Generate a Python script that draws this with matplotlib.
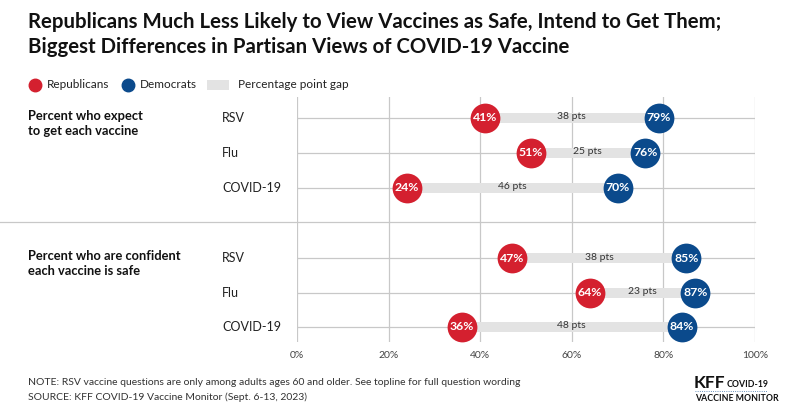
import matplotlib.pyplot as plt
from matplotlib.patches import Rectangle

# data
groups = ['Percent who expect\nto get each vaccine', 'Percent who are confident\neach vaccine is safe']
vaccines = ['RSV', 'Flu', 'COVID-19']
rep_expect = [41, 51, 24]
dem_expect = [79, 76, 70]
rep_safe = [47, 64, 36]
dem_safe = [85, 87, 84]
xticks = [0, 20, 40, 60, 80, 100]

RED = '#d4202f'
BLUE = '#0b4a8c'
GAP = '#e3e3e3'
GRID = '#c8c8c8'

plt.rcParams['font.family'] = ['Lato', 'DejaVu Sans']

W, H = 800, 411
LX = 28
fig = plt.figure(figsize=(8, 4.11), dpi=100)

# main axes in pixel layout: x 297..755, y 97..342
ax_top, ax_bot = 97, 342
ax = fig.add_axes([297 / W, 1 - ax_bot / H, (755 - 297) / W, (ax_bot - ax_top) / H])
ax.set_xlim(0, 100)
ax.set_ylim(ax_bot, ax_top)  # y in pixel rows
ax.axis('off')

row_y = [[118, 153, 188], [258, 293, 327]]
data = [(rep_expect, dem_expect), (rep_safe, dem_safe)]

for x in xticks:
    ax.plot([x, x], [ax_top, ax_bot], color=GRID, lw=0.9, zorder=0)
    ax.text(x, 356, f'{x}%', ha='center', va='center', fontsize=7.5, color='#444444')

for g, (reps, dems) in enumerate(data):
    for i, y in enumerate(row_y[g]):
        r, d = reps[i], dems[i]
        ax.plot([0, 100], [y, y], color=GRID, lw=0.9, zorder=0)
        ax.add_patch(Rectangle((r, y - 5), d - r, 10, color=GAP, lw=0, zorder=1))
        ax.scatter([r], [y], s=460, color=RED, zorder=3, lw=0)
        ax.scatter([d], [y], s=460, color=BLUE, zorder=3, lw=0)
        ax.text(r, y, f'{r}%', ha='center', va='center', color='white',
                fontsize=8.8, fontweight='bold', zorder=4)
        ax.text(d, y, f'{d}%', ha='center', va='center', color='white',
                fontsize=8.8, fontweight='bold', zorder=4)
        ax.text((r + d) / 2, y - 1, f'{d - r} pts', ha='center', va='center',
                fontsize=7.5, color='#333333', zorder=2)
        fig.text(222 / W, 1 - y / H, vaccines[i], ha='left', va='center', fontsize=9, color='#222222')
    fig.text(LX / W, 1 - (row_y[g][0] - 8) / H, groups[g], ha='left', va='top',
             fontsize=9.3, fontweight='bold', color='#111111', linespacing=1.3)

# separator between groups
fig.add_artist(plt.Line2D([0, 755 / W], [1 - 222 / H, 1 - 222 / H], color=GRID, lw=0.9))

# title
fig.text(LX / W, 1 - 22 / H, 'Republicans Much Less Likely to View Vaccines as Safe, Intend to Get Them;',
         ha='left', va='center', fontsize=14.7, fontweight='bold', color='#111111')
fig.text(LX / W, 1 - 47 / H, 'Biggest Differences in Partisan Views of COVID-19 Vaccine',
         ha='left', va='center', fontsize=14.7, fontweight='bold', color='#111111')

# legend
ly = 1 - 85 / H
fig.add_artist(plt.Line2D([35 / W], [ly], marker='o', markersize=9, color=RED, lw=0))
fig.text(47 / W, ly, 'Republicans', ha='left', va='center', fontsize=8.5, color='#222222')
fig.add_artist(plt.Line2D([128 / W], [ly], marker='o', markersize=9, color=BLUE, lw=0))
fig.text(140 / W, ly, 'Democrats', ha='left', va='center', fontsize=8.5, color='#222222')
fig.add_artist(Rectangle((207 / W, 1 - 90 / H), 22 / W, 10 / H, color=GAP, lw=0,
                         transform=fig.transFigure))
fig.text(238 / W, ly, 'Percentage point gap', ha='left', va='center', fontsize=8.5, color='#222222')

# notes
fig.text(LX / W, 1 - 382 / H,
         'NOTE: RSV vaccine questions are only among adults ages 60 and older. See topline for full question wording',
         ha='left', va='center', fontsize=7.5, color='#333333')
fig.text(LX / W, 1 - 397 / H, 'SOURCE: KFF COVID-19 Vaccine Monitor (Sept. 6-13, 2023)',
         ha='left', va='center', fontsize=7.5, color='#333333')

# logo
fig.text(694 / W, 1 - 383 / H, 'KFF', ha='left', va='center', fontsize=12.5, fontweight='bold', color='#111111')
fig.text(727 / W, 1 - 384 / H, 'COVID-19', ha='left', va='center', fontsize=6.3, fontweight='bold', color='#111111')
fig.add_artist(plt.Line2D([695 / W, 767 / W], [1 - 391 / H, 1 - 391 / H], color='#3a6ea5', lw=0.6, ls=':'))
fig.text(695 / W, 1 - 398 / H, 'VACCINE MONITOR', ha='left', va='center', fontsize=6.3, fontweight='bold', color='#111111')

fig.savefig('out.png', dpi=100, facecolor='white')
